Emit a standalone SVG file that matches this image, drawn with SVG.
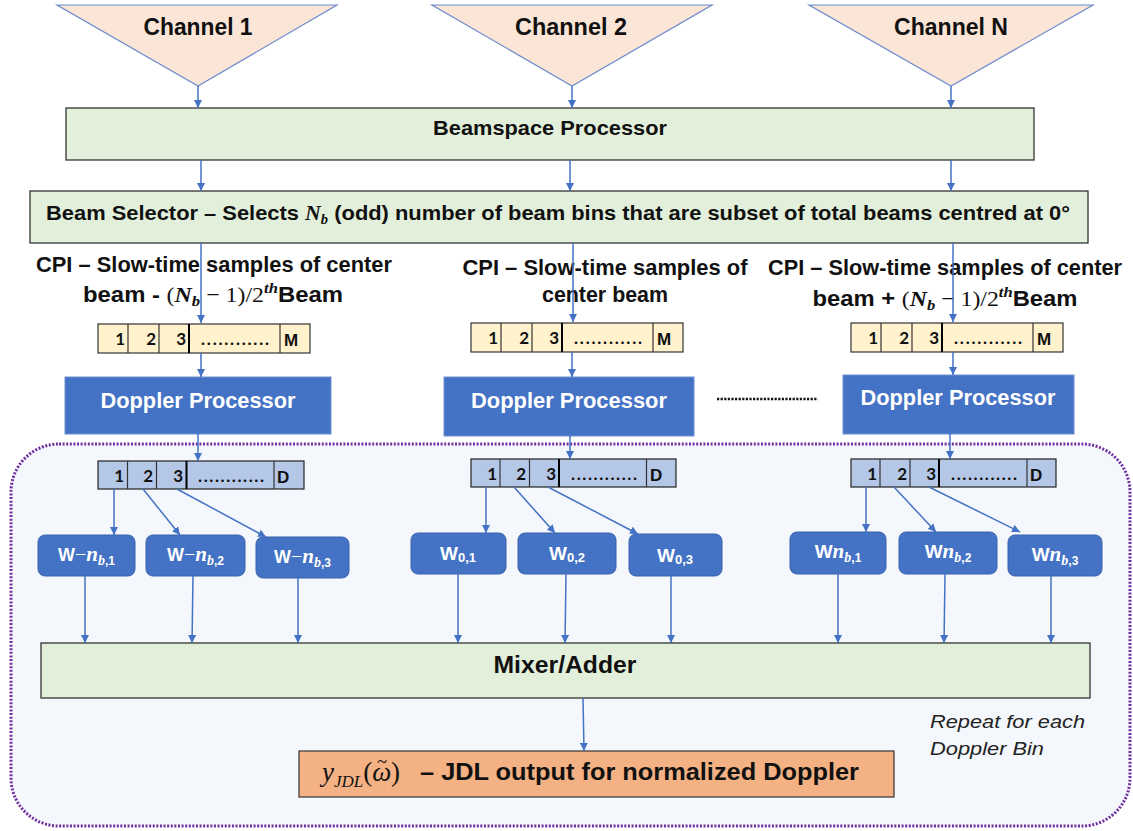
<svg xmlns="http://www.w3.org/2000/svg" width="1133" height="831" viewBox="0 0 1133 831">
<defs>
<marker id="ah" viewBox="0 0 10 10" refX="10" refY="5" markerWidth="8" markerHeight="8" markerUnits="userSpaceOnUse" orient="auto"><path d="M0,0 L10,5 L0,10 z" fill="#4472c4"/></marker>
<style>
.s{font-family:"Liberation Sans",Arial,sans-serif;font-weight:bold;fill:#111}
.m{font-family:"Liberation Serif","DejaVu Serif",serif;font-weight:normal}
.mi{font-family:"Liberation Serif","DejaVu Serif",serif;font-style:italic;font-weight:bold}
.w{fill:#fff}
.tri{fill:#fbe5d6;stroke:#6d8ccc;stroke-width:1.2}
.grn{fill:#e2efda;stroke:#333;stroke-width:1.3}
.bar{fill:#fff2cc;stroke:#333;stroke-width:1.2}
.dbar{fill:#b4c7e7;stroke:#222;stroke-width:1.2}
.thk{stroke:#000;stroke-width:2}
.thn{stroke:#333;stroke-width:1.2}
.dp{fill:#4472c4;stroke:#6f8fd0;stroke-width:1}
.wb{fill:#4472c4;stroke:#3a62ac;stroke-width:1}
.cal{font-family:Lato,"Open Sans",sans-serif;font-weight:bold;font-size:17px;fill:#111}
.ln{stroke:#4472c4;stroke-width:1.5;fill:none;marker-end:url(#ah)}
</style>
</defs>

<g id="container">
<rect x="11" y="444" width="1119" height="382" rx="48" ry="48" fill="#f4f7fc" stroke="#7030a0" stroke-width="3" stroke-dasharray="2 1.6"/>
</g>

<g id="channel1"><polygon class="tri" points="57,5 337,5 198,86"/><text class="s" x="198" y="35" font-size="23" text-anchor="middle" textLength="109" lengthAdjust="spacingAndGlyphs">Channel 1</text></g>
<g id="channel2"><polygon class="tri" points="432,5 712,5 572,86"/><text class="s" x="571" y="35" font-size="23" text-anchor="middle" textLength="112" lengthAdjust="spacingAndGlyphs">Channel 2</text></g>
<g id="channelN"><polygon class="tri" points="809,5 1093,5 951,86"/><text class="s" x="951" y="35" font-size="23" text-anchor="middle" textLength="114" lengthAdjust="spacingAndGlyphs">Channel N</text></g>

<g id="beamspace"><rect class="grn" x="66" y="108" width="968" height="52"/><text class="s" x="550" y="135" font-size="21" text-anchor="middle" textLength="234" lengthAdjust="spacingAndGlyphs">Beamspace Processor</text></g>

<g id="selector"><rect class="grn" x="30" y="191" width="1058" height="52"/><text class="s" x="46" y="220" font-size="21" textLength="1024" lengthAdjust="spacingAndGlyphs">Beam Selector – Selects <tspan class="mi" font-weight="normal">N</tspan><tspan class="mi" font-size="14" dy="4">b</tspan><tspan dy="-4"> (odd) number of beam bins that are subset of total beams centred at 0°</tspan></text></g>

<g id="cpi-left">
<text class="s" x="214" y="272" font-size="21.5" text-anchor="middle" textLength="356" lengthAdjust="spacingAndGlyphs">CPI – Slow-time samples of center</text>
<text class="s" x="213" y="302" font-size="21.5" text-anchor="middle" textLength="260" lengthAdjust="spacingAndGlyphs">beam - <tspan class="m">(</tspan><tspan class="mi" font-weight="normal">N</tspan><tspan class="mi" font-size="15" dy="4">b</tspan><tspan class="m" dy="-4"> − 1)/2</tspan><tspan class="mi" font-weight="normal" font-size="15" dy="-9">th</tspan><tspan dy="9">Beam</tspan></text>
</g>
<g id="cpi-center">
<text class="s" x="605" y="275" font-size="21.5" text-anchor="middle" textLength="285" lengthAdjust="spacingAndGlyphs">CPI – Slow-time samples of</text>
<text class="s" x="605" y="302" font-size="21.5" text-anchor="middle" textLength="126" lengthAdjust="spacingAndGlyphs">center beam</text>
</g>
<g id="cpi-right">
<text class="s" x="945" y="275" font-size="21.5" text-anchor="middle" textLength="354" lengthAdjust="spacingAndGlyphs">CPI – Slow-time samples of center</text>
<text class="s" x="945" y="306" font-size="21.5" text-anchor="middle" textLength="265" lengthAdjust="spacingAndGlyphs">beam + <tspan class="m">(</tspan><tspan class="mi" font-weight="normal">N</tspan><tspan class="mi" font-size="15" dy="4">b</tspan><tspan class="m" dy="-4"> − 1)/2</tspan><tspan class="mi" font-weight="normal" font-size="15" dy="-9">th</tspan><tspan dy="9">Beam</tspan></text>
</g>

<g id="samples-left">
<rect class="bar" x="98" y="324" width="212" height="29"/>
<line class="thn" x1="128" y1="324" x2="128" y2="353"/><line class="thn" x1="159" y1="324" x2="159" y2="353"/><line class="thk" x1="189" y1="324" x2="189" y2="353"/><line class="thn" x1="280" y1="324" x2="280" y2="353"/>
<text class="cal" x="125" y="345" text-anchor="end">1</text><text class="cal" x="156" y="345" text-anchor="end">2</text><text class="cal" x="186" y="345" text-anchor="end">3</text>
<text class="cal" x="201" y="345" textLength="68" lengthAdjust="spacing">............</text>
<text class="s" x="284" y="346" font-size="17">M</text>
</g>
<g id="samples-center">
<rect class="bar" x="471" y="323" width="212" height="29"/>
<line class="thn" x1="501" y1="323" x2="501" y2="352"/><line class="thn" x1="532" y1="323" x2="532" y2="352"/><line class="thk" x1="562" y1="323" x2="562" y2="352"/><line class="thn" x1="653" y1="323" x2="653" y2="352"/>
<text class="cal" x="498" y="344" text-anchor="end">1</text><text class="cal" x="529" y="344" text-anchor="end">2</text><text class="cal" x="559" y="344" text-anchor="end">3</text>
<text class="cal" x="574" y="344" textLength="68" lengthAdjust="spacing">............</text>
<text class="s" x="657" y="345" font-size="17">M</text>
</g>
<g id="samples-right">
<rect class="bar" x="851" y="323" width="212" height="29"/>
<line class="thn" x1="881" y1="323" x2="881" y2="352"/><line class="thn" x1="912" y1="323" x2="912" y2="352"/><line class="thk" x1="942" y1="323" x2="942" y2="352"/><line class="thn" x1="1033" y1="323" x2="1033" y2="352"/>
<text class="cal" x="878" y="344" text-anchor="end">1</text><text class="cal" x="909" y="344" text-anchor="end">2</text><text class="cal" x="939" y="344" text-anchor="end">3</text>
<text class="cal" x="954" y="344" textLength="68" lengthAdjust="spacing">............</text>
<text class="s" x="1037" y="345" font-size="17">M</text>
</g>

<g id="doppler-left"><rect class="dp" x="65" y="377" width="266" height="57"/><text class="s w" x="198" y="408" font-size="22" text-anchor="middle" textLength="195" lengthAdjust="spacingAndGlyphs">Doppler Processor</text></g>
<g id="doppler-center"><rect class="dp" x="444" y="377" width="250" height="59"/><text class="s w" x="569" y="408" font-size="22" text-anchor="middle" textLength="196" lengthAdjust="spacingAndGlyphs">Doppler Processor</text></g>
<g id="doppler-right"><rect class="dp" x="843" y="375" width="231" height="59"/><text class="s w" x="958" y="405" font-size="22" text-anchor="middle" textLength="195" lengthAdjust="spacingAndGlyphs">Doppler Processor</text></g>
<g id="ellipsis"><line x1="717" y1="399" x2="818" y2="399" stroke="#111" stroke-width="2.5" stroke-dasharray="2.2 1.4"/></g>

<g id="bins-left">
<rect class="dbar" x="98" y="461" width="206" height="28"/>
<line class="thn" x1="127.5" y1="461" x2="127.5" y2="489"/><line class="thn" x1="156.5" y1="461" x2="156.5" y2="489"/><line class="thk" x1="186.5" y1="461" x2="186.5" y2="489"/><line class="thn" x1="274" y1="461" x2="274" y2="489"/>
<text class="cal" x="124" y="482" text-anchor="end">1</text><text class="cal" x="153" y="482" text-anchor="end">2</text><text class="cal" x="183" y="482" text-anchor="end">3</text>
<text class="cal" x="198" y="482" textLength="66" lengthAdjust="spacing">............</text>
<text class="s" x="277" y="483" font-size="17">D</text>
</g>
<g id="bins-center">
<rect class="dbar" x="471" y="459" width="205" height="28"/>
<line class="thn" x1="500" y1="459" x2="500" y2="487"/><line class="thn" x1="529.5" y1="459" x2="529.5" y2="487"/><line class="thk" x1="559" y1="459" x2="559" y2="487"/><line class="thn" x1="646.5" y1="459" x2="646.5" y2="487"/>
<text class="cal" x="497" y="480" text-anchor="end">1</text><text class="cal" x="526" y="480" text-anchor="end">2</text><text class="cal" x="556" y="480" text-anchor="end">3</text>
<text class="cal" x="571" y="480" textLength="66" lengthAdjust="spacing">............</text>
<text class="s" x="650" y="481" font-size="17">D</text>
</g>
<g id="bins-right">
<rect class="dbar" x="851" y="459" width="205" height="28"/>
<line class="thn" x1="880" y1="459" x2="880" y2="487"/><line class="thn" x1="910" y1="459" x2="910" y2="487"/><line class="thk" x1="939" y1="459" x2="939" y2="487"/><line class="thn" x1="1027" y1="459" x2="1027" y2="487"/>
<text class="cal" x="877" y="480" text-anchor="end">1</text><text class="cal" x="907" y="480" text-anchor="end">2</text><text class="cal" x="936" y="480" text-anchor="end">3</text>
<text class="cal" x="951" y="480" textLength="66" lengthAdjust="spacing">............</text>
<text class="s" x="1030" y="481" font-size="17">D</text>
</g>

<g id="w-neg-1"><rect class="wb" x="38" y="535" width="97" height="41" rx="7"/><text class="s w" x="86.5" y="561" font-size="18" text-anchor="middle">W<tspan class="m" font-size="20">−</tspan><tspan class="mi" font-size="21">n</tspan><tspan class="mi" font-size="14" dy="4">b</tspan><tspan font-size="12">,1</tspan></text></g>
<g id="w-neg-2"><rect class="wb" x="146" y="535" width="99" height="41" rx="7"/><text class="s w" x="195.5" y="561" font-size="18" text-anchor="middle">W<tspan class="m" font-size="20">−</tspan><tspan class="mi" font-size="21">n</tspan><tspan class="mi" font-size="14" dy="4">b</tspan><tspan font-size="12">,2</tspan></text></g>
<g id="w-neg-3"><rect class="wb" x="256" y="537" width="93" height="41" rx="7"/><text class="s w" x="302.5" y="563" font-size="18" text-anchor="middle">W<tspan class="m" font-size="20">−</tspan><tspan class="mi" font-size="21">n</tspan><tspan class="mi" font-size="14" dy="4">b</tspan><tspan font-size="12">,3</tspan></text></g>

<g id="w-0-1"><rect class="wb" x="411" y="533" width="95" height="41" rx="7"/><text class="s w" x="458" y="560" font-size="19" text-anchor="middle">W<tspan font-size="13" dy="2">0,1</tspan></text></g>
<g id="w-0-2"><rect class="wb" x="518" y="533" width="98" height="41" rx="7"/><text class="s w" x="567" y="560" font-size="19" text-anchor="middle">W<tspan font-size="13" dy="2">0,2</tspan></text></g>
<g id="w-0-3"><rect class="wb" x="629" y="534" width="93" height="42" rx="7"/><text class="s w" x="675" y="562" font-size="19" text-anchor="middle">W<tspan font-size="13" dy="2">0,3</tspan></text></g>

<g id="w-pos-1"><rect class="wb" x="790" y="532" width="96" height="42" rx="7"/><text class="s w" x="838" y="558" font-size="19" text-anchor="middle">W<tspan class="mi" font-size="21">n</tspan><tspan class="mi" font-size="14" dy="4">b</tspan><tspan font-size="12">,1</tspan></text></g>
<g id="w-pos-2"><rect class="wb" x="899" y="532" width="98" height="42" rx="7"/><text class="s w" x="948" y="558" font-size="19" text-anchor="middle">W<tspan class="mi" font-size="21">n</tspan><tspan class="mi" font-size="14" dy="4">b</tspan><tspan font-size="12">,2</tspan></text></g>
<g id="w-pos-3"><rect class="wb" x="1008" y="535" width="94" height="41" rx="7"/><text class="s w" x="1055" y="561" font-size="19" text-anchor="middle">W<tspan class="mi" font-size="21">n</tspan><tspan class="mi" font-size="14" dy="4">b</tspan><tspan font-size="12">,3</tspan></text></g>

<g id="mixer"><rect class="grn" x="41" y="643" width="1049" height="55"/><text class="s" x="565" y="673" font-size="23" text-anchor="middle" textLength="143" lengthAdjust="spacingAndGlyphs">Mixer/Adder</text></g>

<g id="output"><rect x="299" y="751" width="595" height="46" fill="#f4b183" stroke="#333" stroke-width="1.2"/>
<text x="322" y="781" font-family="Liberation Serif,DejaVu Serif,serif" font-style="italic" font-size="27" fill="#111">y<tspan font-size="17" dy="6">JDL</tspan><tspan font-style="normal" dy="-6">(</tspan>ω<tspan font-style="normal" font-size="18" dx="-14" dy="-13">~</tspan><tspan font-style="normal" dx="4" dy="13">)</tspan></text>
<text class="s" x="420" y="780" font-size="23" textLength="439" lengthAdjust="spacingAndGlyphs">– JDL output for normalized Doppler</text></g>

<g id="note">
<text x="930" y="728" font-family="Liberation Sans,Arial,sans-serif" font-style="italic" font-size="19" fill="#222" textLength="155" lengthAdjust="spacingAndGlyphs">Repeat for each</text>
<text x="930" y="755" font-family="Liberation Sans,Arial,sans-serif" font-style="italic" font-size="19" fill="#222" textLength="114" lengthAdjust="spacingAndGlyphs">Doppler Bin</text>
</g>

<g id="connectors">
<line class="ln" x1="198" y1="86" x2="198" y2="108"/>
<line class="ln" x1="572" y1="86" x2="572" y2="108"/>
<line class="ln" x1="951" y1="86" x2="951" y2="108"/>
<line class="ln" x1="201" y1="160" x2="201" y2="191"/>
<line class="ln" x1="570" y1="160" x2="570" y2="191"/>
<line class="ln" x1="951" y1="160" x2="951" y2="191"/>
<line class="ln" x1="201" y1="243" x2="201" y2="323"/>
<line class="ln" x1="573" y1="243" x2="573" y2="322"/>
<line class="ln" x1="953" y1="243" x2="953" y2="322"/>
<line class="ln" x1="201" y1="353" x2="201" y2="377"/>
<line class="ln" x1="572" y1="352" x2="572" y2="377"/>
<line class="ln" x1="953" y1="352" x2="953" y2="375"/>
<line class="ln" x1="198" y1="434" x2="198" y2="461"/>
<line class="ln" x1="570" y1="436" x2="570" y2="459"/>
<line class="ln" x1="950" y1="434" x2="950" y2="459"/>
<line class="ln" x1="114" y1="489" x2="114" y2="535"/>
<line class="ln" x1="143" y1="489" x2="180" y2="535"/>
<line class="ln" x1="177" y1="489" x2="266" y2="537"/>
<line class="ln" x1="486" y1="487" x2="486" y2="533"/>
<line class="ln" x1="514" y1="487" x2="555" y2="533"/>
<line class="ln" x1="548" y1="487" x2="638" y2="534"/>
<line class="ln" x1="866" y1="487" x2="866" y2="532"/>
<line class="ln" x1="894" y1="487" x2="936" y2="532"/>
<line class="ln" x1="929" y1="487" x2="1020" y2="532"/>
<line class="ln" x1="85" y1="576" x2="85" y2="643"/>
<line class="ln" x1="193" y1="576" x2="192" y2="643"/>
<line class="ln" x1="298" y1="578" x2="298" y2="643"/>
<line class="ln" x1="458" y1="574" x2="458" y2="643"/>
<line class="ln" x1="566" y1="574" x2="565" y2="643"/>
<line class="ln" x1="671" y1="576" x2="671" y2="643"/>
<line class="ln" x1="838" y1="574" x2="838" y2="643"/>
<line class="ln" x1="945" y1="574" x2="944" y2="643"/>
<line class="ln" x1="1051" y1="576" x2="1051" y2="643"/>
<line class="ln" x1="583" y1="698" x2="584" y2="751" stroke-width="1"/>
</g>
</svg>
